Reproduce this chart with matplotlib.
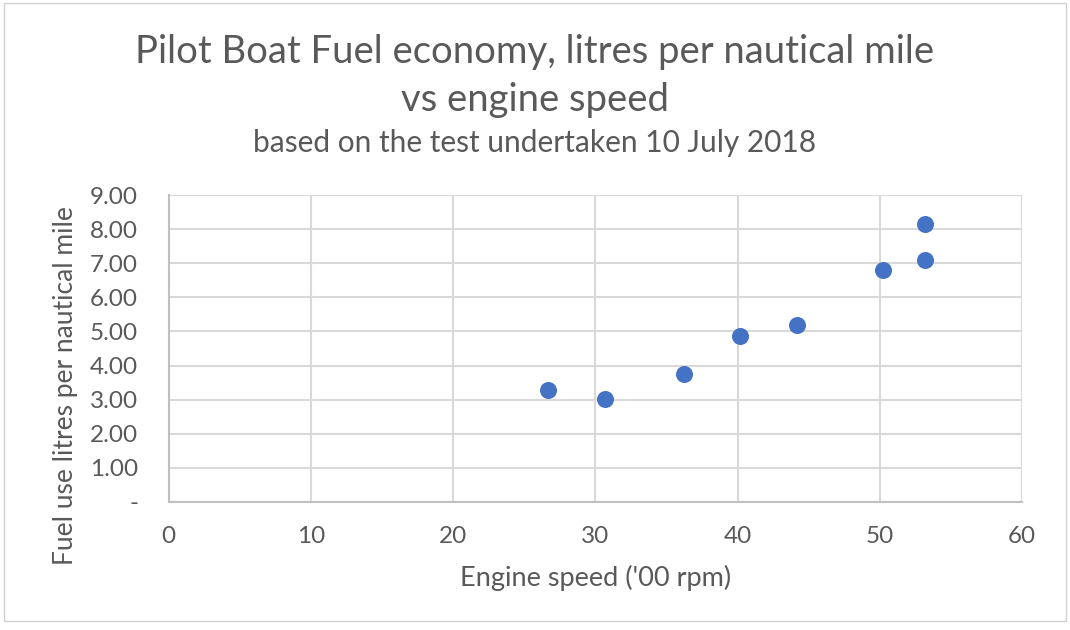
"""Pilot boat fuel economy scatter chart."""

import matplotlib
matplotlib.use("Agg")
import matplotlib.pyplot as plt
from matplotlib.patches import Rectangle
from matplotlib.ticker import FuncFormatter

# Engine speed in hundreds of rpm, fuel use in litres per nautical mile
engine_speed = [26.7, 30.7, 36.2, 40.2, 44.2, 50.2, 53.2, 53.2]
fuel_use = [3.29, 3.01, 3.74, 4.88, 5.20, 6.81, 7.09, 8.14]

x_ticks = [0, 10, 20, 30, 40, 50, 60]
y_ticks = [0, 1, 2, 3, 4, 5, 6, 7, 8, 9]

TEXT = "#595959"
GRID = "#d9d9d9"
POINT = "#4472C4"

plt.rcParams["font.family"] = ["Lato", "DejaVu Sans"]

fig = plt.figure(figsize=(10.7, 6.3), dpi=100)
fig.patches.append(Rectangle((0.004, 0.015), 0.992, 0.98, transform=fig.transFigure,
                             fill=False, edgecolor="#d0d0d0", linewidth=1))

ax = fig.add_axes([168.8 / 1070, 1 - 502 / 630, (1022 - 168.8) / 1070, (502 - 195) / 630])
ax.scatter(engine_speed, fuel_use, s=150, color=POINT, zorder=3, linewidths=0)

ax.set_xlim(0, 60)
ax.set_ylim(0, 9)
ax.set_xticks(x_ticks)
ax.set_yticks(y_ticks)
ax.yaxis.set_major_formatter(FuncFormatter(lambda v, _: "-" if v == 0 else f"{v:.2f}"))
ax.grid(True, color=GRID, linewidth=1.5)
ax.set_axisbelow(True)
for side in ["top", "right"]:
    ax.spines[side].set_visible(False)
for side in ["left", "bottom"]:
    ax.spines[side].set_color("#bfbfbf")
    ax.spines[side].set_linewidth(1.5)
ax.tick_params(length=0, labelsize=17.5, labelcolor=TEXT)
ax.tick_params(axis="y", pad=22)
ax.tick_params(axis="x", pad=17)

ax.set_xlabel("Engine speed ('00 rpm)", fontsize=19.5, color=TEXT, labelpad=13)
ax.set_ylabel("Fuel use litres per nautical mile", fontsize=19, color=TEXT)
ax.yaxis.set_label_coords(-0.107, 0.38)

fig.text(0.5, 1 - 52 / 630, "Pilot Boat Fuel economy, litres per nautical mile",
         ha="center", va="center", fontsize=27.5, color=TEXT)
fig.text(0.5, 1 - 100 / 630, "vs engine speed",
         ha="center", va="center", fontsize=27.5, color=TEXT)
fig.text(0.5, 1 - 143 / 630, "based on the test undertaken 10 July 2018",
         ha="center", va="center", fontsize=21.5, color=TEXT)

fig.savefig("out.png", dpi=100)
plt.close(fig)
